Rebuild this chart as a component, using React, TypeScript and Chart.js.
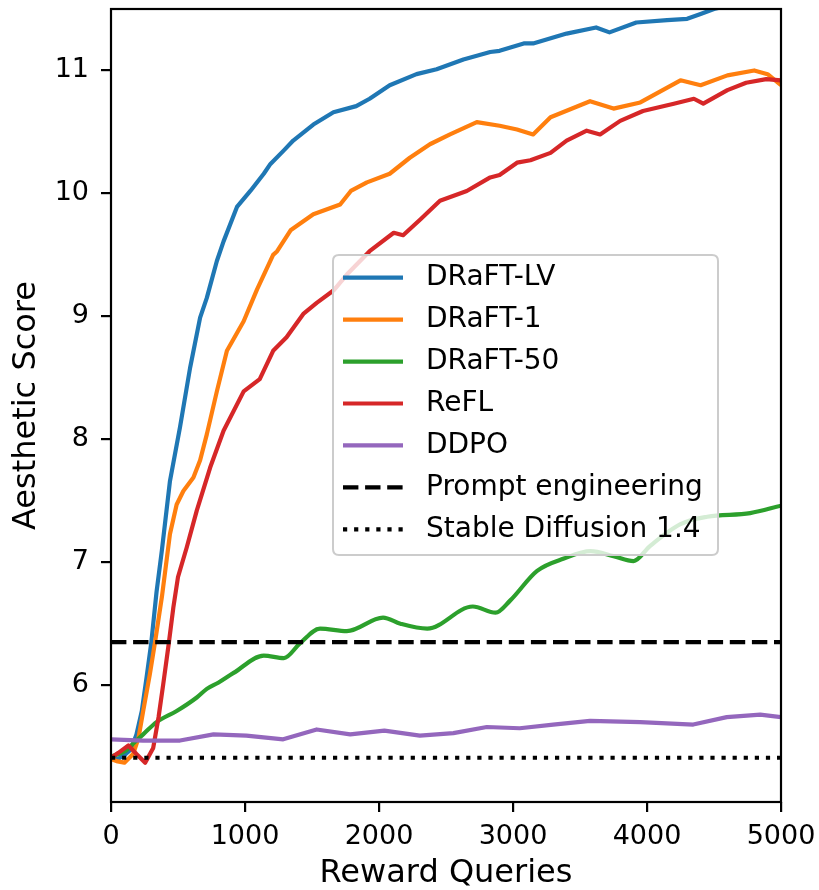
import React, { useEffect, useRef } from "react";
import { Chart, registerables } from "chart.js";

Chart.register(...registerables);

const FONT = '"DejaVu Sans", "Liberation Sans", sans-serif';

const seriesNames = ["DRaFT-LV", "DRaFT-1", "DRaFT-50", "ReFL", "DDPO", "Prompt engineering", "Stable Diffusion 1.4"];
const seriesColors = ["#1f77b4", "#ff7f0e", "#2ca02c", "#d62728", "#9467bd", "#000000", "#000000"];

const xTicks = [0, 1000, 2000, 3000, 4000, 5000];
const yTicks = [6, 7, 8, 9, 10, 11];

const lvX = [0, 50, 100, 150, 190, 230, 265, 300, 340, 380, 440, 515, 590, 665, 715, 790, 840, 940, 1040, 1140, 1190, 1290, 1360, 1510, 1660, 1830, 1930, 2080, 2280, 2430, 2630, 2830, 2900, 3080, 3150, 3400, 3620, 3720, 3920, 4150, 4300, 4400, 4500, 4700, 5000];
const lvY = [5.40, 5.40, 5.43, 5.48, 5.60, 5.79, 6.06, 6.34, 6.76, 7.10, 7.66, 8.10, 8.58, 8.99, 9.15, 9.45, 9.61, 9.89, 10.02, 10.16, 10.24, 10.35, 10.43, 10.56, 10.66, 10.71, 10.77, 10.88, 10.97, 11.01, 11.09, 11.15, 11.16, 11.22, 11.22, 11.30, 11.35, 11.31, 11.39, 11.41, 11.42, 11.46, 11.50, 11.55, 11.62];

const d1X = [0, 50, 100, 165, 205, 240, 290, 330, 380, 440, 490, 540, 615, 665, 715, 790, 865, 990, 1090, 1210, 1240, 1340, 1510, 1710, 1790, 1910, 2080, 2230, 2380, 2530, 2730, 2900, 3030, 3150, 3280, 3575, 3750, 3950, 4250, 4400, 4600, 4800, 4900, 5000];
const d1Y = [5.40, 5.38, 5.37, 5.44, 5.57, 5.79, 6.09, 6.36, 6.72, 7.23, 7.47, 7.58, 7.69, 7.83, 8.04, 8.39, 8.72, 8.96, 9.22, 9.50, 9.53, 9.70, 9.83, 9.91, 10.02, 10.09, 10.16, 10.29, 10.40, 10.48, 10.58, 10.55, 10.52, 10.48, 10.62, 10.75, 10.69, 10.74, 10.92, 10.88, 10.96, 11.00, 10.97, 10.88];

const d50X = [0, 100, 170, 240, 340, 490, 640, 715, 800, 915, 1140, 1290, 1410, 1560, 1760, 2030, 2160, 2360, 2700, 2870, 2980, 3180, 3380, 3580, 3750, 3900, 4020, 4250, 4450, 4770, 5000];
const d50Y = [5.42, 5.46, 5.53, 5.60, 5.70, 5.79, 5.90, 5.97, 6.02, 6.10, 6.24, 6.22, 6.34, 6.46, 6.44, 6.55, 6.50, 6.46, 6.64, 6.59, 6.69, 6.93, 7.03, 7.09, 7.05, 7.01, 7.13, 7.31, 7.37, 7.40, 7.46];

const reflX = [0, 55, 130, 190, 255, 315, 355, 390, 430, 465, 500, 565, 640, 740, 840, 990, 1110, 1210, 1310, 1435, 1535, 1660, 1760, 1930, 2110, 2180, 2310, 2455, 2655, 2830, 2900, 3030, 3130, 3280, 3400, 3550, 3650, 3800, 3970, 4200, 4350, 4420, 4600, 4740, 4890, 5000];
const reflY = [5.41, 5.45, 5.51, 5.44, 5.37, 5.49, 5.74, 6.01, 6.33, 6.63, 6.88, 7.12, 7.42, 7.77, 8.07, 8.39, 8.49, 8.72, 8.83, 9.02, 9.11, 9.21, 9.34, 9.53, 9.68, 9.66, 9.79, 9.94, 10.02, 10.13, 10.15, 10.25, 10.27, 10.33, 10.43, 10.51, 10.48, 10.59, 10.67, 10.73, 10.77, 10.73, 10.84, 10.90, 10.93, 10.92];

const ddpoX = [0, 240, 515, 765, 1010, 1285, 1535, 1785, 2040, 2305, 2555, 2805, 3050, 3300, 3575, 3950, 4345, 4595, 4845, 5000];
const ddpoY = [5.56, 5.55, 5.55, 5.60, 5.59, 5.56, 5.64, 5.60, 5.63, 5.59, 5.61, 5.66, 5.65, 5.68, 5.71, 5.70, 5.68, 5.74, 5.76, 5.74];

const promptX = [0, 5000];
const promptY = [6.35, 6.35];

const sdX = [0, 5000];
const sdY = [5.41, 5.41];

const pts = (xs: number[], ys: number[]) => xs.map((x, i) => ({ x, y: ys[i] }));

const frameAndLegend = {
  id: "frameAndLegend",
  afterDatasetsDraw(chart: any) {
    const { ctx, chartArea } = chart;
    ctx.save();
    ctx.strokeStyle = "#000";
    ctx.lineWidth = 2.2;
    ctx.setLineDash([]);
    ctx.strokeRect(chartArea.left, chartArea.top, chartArea.right - chartArea.left, chartArea.bottom - chartArea.top);
    ctx.restore();
  },
  afterDraw(chart: any) {
    const { ctx, chartArea } = chart;
    const x0 = chartArea.left + 222;
    const y0 = chartArea.top + 246;
    const w = 385;
    const h = 300;
    const r = 6;
    ctx.save();
    ctx.beginPath();
    ctx.moveTo(x0 + r, y0);
    ctx.lineTo(x0 + w - r, y0);
    ctx.quadraticCurveTo(x0 + w, y0, x0 + w, y0 + r);
    ctx.lineTo(x0 + w, y0 + h - r);
    ctx.quadraticCurveTo(x0 + w, y0 + h, x0 + w - r, y0 + h);
    ctx.lineTo(x0 + r, y0 + h);
    ctx.quadraticCurveTo(x0, y0 + h, x0, y0 + h - r);
    ctx.lineTo(x0, y0 + r);
    ctx.quadraticCurveTo(x0, y0, x0 + r, y0);
    ctx.closePath();
    ctx.fillStyle = "rgba(255,255,255,0.8)";
    ctx.fill();
    ctx.strokeStyle = "#cccccc";
    ctx.lineWidth = 2;
    ctx.stroke();
    chart.data.datasets.forEach((ds: any, i: number) => {
      const cy = y0 + 22.7 + i * 41.93;
      ctx.strokeStyle = ds.borderColor;
      ctx.lineWidth = ds.borderWidth;
      ctx.lineCap = "butt";
      ctx.setLineDash(ds.borderDash || []);
      ctx.beginPath();
      ctx.moveTo(x0 + 10, cy);
      ctx.lineTo(x0 + 70, cy);
      ctx.stroke();
      ctx.setLineDash([]);
      ctx.fillStyle = "#000";
      ctx.font = `28px ${FONT}`;
      ctx.textAlign = "left";
      ctx.textBaseline = "middle";
      ctx.fillText(ds.label, x0 + 93, cy);
    });
    ctx.restore();
  },
};

export default function App() {
  const ref = useRef<HTMLCanvasElement | null>(null);

  useEffect(() => {
    if (!ref.current) return;
    const xsList = [lvX, d1X, d50X, reflX, ddpoX, promptX, sdX];
    const ysList = [lvY, d1Y, d50Y, reflY, ddpoY, promptY, sdY];
    const dashes: number[][] = [[], [], [], [], [], [15.4, 6.7], [4.2, 6.9]];
    const tensions = [0, 0, 0.4, 0, 0, 0, 0];
    const datasets = seriesNames.map((name, i) => ({
      label: name,
      data: pts(xsList[i], ysList[i]),
      borderColor: seriesColors[i],
      backgroundColor: seriesColors[i],
      borderWidth: 4.2,
      borderDash: dashes[i],
      borderCapStyle: "butt" as const,
      borderJoinStyle: "round" as const,
      pointRadius: 0,
      pointHoverRadius: 0,
      tension: tensions[i],
      cubicInterpolationMode: i === 2 ? ("monotone" as const) : ("default" as const),
      fill: false,
      clip: 0,
      order: 10 - i,
    }));

    const chart = new Chart(ref.current, {
      type: "line",
      data: { datasets },
      plugins: [frameAndLegend],
      options: {
        animation: false,
        responsive: false,
        layout: { padding: { top: 9, right: 38, left: 0, bottom: 0 } },
        plugins: { legend: { display: false }, tooltip: { enabled: false } },
        events: [],
        scales: {
          x: {
            type: "linear",
            min: 0,
            max: 5000,
            afterBuildTicks: (s: any) => {
              s.ticks = xTicks.map((v) => ({ value: v }));
            },
            afterFit: (s: any) => {
              s.height = 88;
              s.paddingLeft = 0;
              s.paddingRight = 0;
              s.paddingTop = 0;
              s.paddingBottom = 0;
            },
            grid: { display: true, drawOnChartArea: false, drawTicks: true, tickLength: 10, lineWidth: 2.2, color: "#000" },
            border: { display: false },
            ticks: {
              color: "#000",
              font: { family: FONT, size: 27 },
              padding: 9,
              maxRotation: 0,
              autoSkip: false,
              callback: (v: any) => String(v),
            },
            title: {
              display: true,
              text: "Reward Queries",
              color: "#000",
              font: { family: FONT, size: 32, lineHeight: 1 },
              padding: { top: 0, bottom: 0 },
            },
          },
          y: {
            type: "linear",
            min: 5.05,
            max: 11.5,
            afterBuildTicks: (s: any) => {
              s.ticks = yTicks.map((v) => ({ value: v }));
            },
            afterFit: (s: any) => {
              s.width = 111;
              s.paddingLeft = 0;
              s.paddingRight = 0;
              s.paddingTop = 0;
              s.paddingBottom = 0;
            },
            grid: { display: true, drawOnChartArea: false, drawTicks: true, tickLength: 10, lineWidth: 2.2, color: "#000" },
            border: { display: false },
            ticks: {
              color: "#000",
              font: { family: FONT, size: 27 },
              padding: 12,
              autoSkip: false,
              callback: (v: any) => String(v),
            },
            title: {
              display: true,
              text: "Aesthetic Score",
              color: "#000",
              font: { family: FONT, size: 32, lineHeight: 1 },
              padding: { top: 10.8, bottom: 0 },
            },
          },
        },
      },
    });
    return () => chart.destroy();
  }, []);

  return (
    <div style={{ position: "fixed", left: 0, top: 0, width: 819, height: 890, background: "#fff" }}>
      <canvas ref={ref} width={819} height={890} style={{ display: "block", width: 819, height: 890 }} />
    </div>
  );
}
